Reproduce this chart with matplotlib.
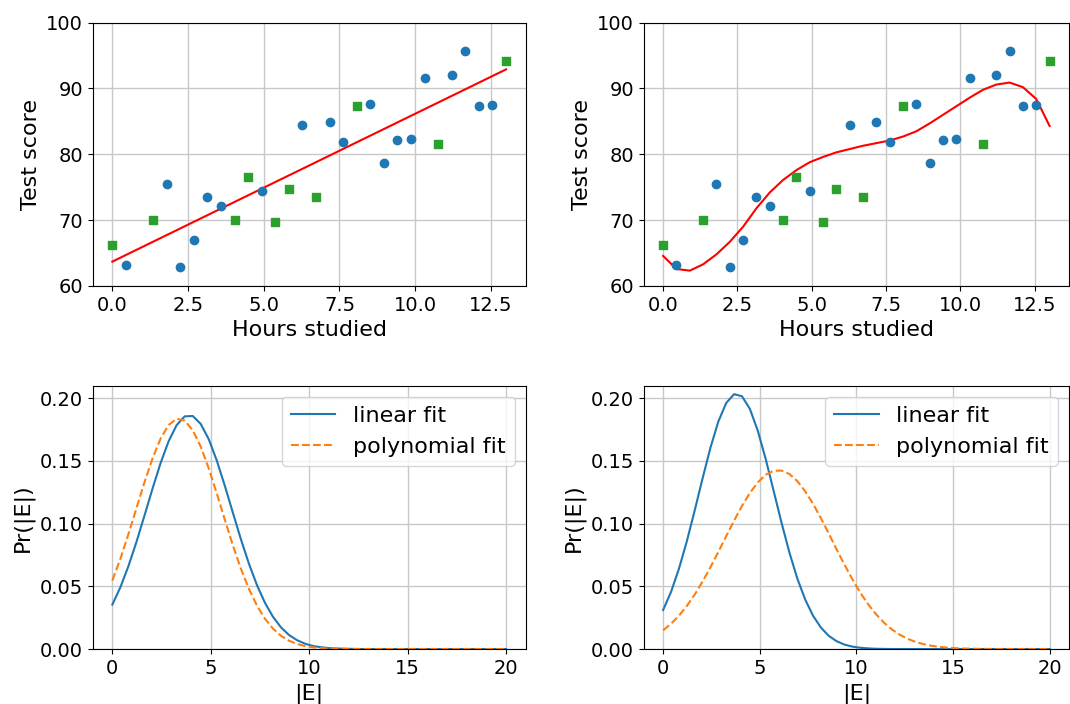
import matplotlib
matplotlib.use("Agg")
import matplotlib.pyplot as plt

# hours studied / test scores (training = circles, test = squares)
train_hours = [0.448, 1.793, 2.241, 2.690, 3.138, 3.586, 4.931, 6.276, 7.172, 7.621,
               8.517, 8.966, 9.414, 9.862, 10.310, 11.207, 11.655, 12.103, 12.552]
train_score = [63.19, 75.44, 62.84, 67.04, 73.52, 72.20, 74.48, 84.40, 84.96, 81.92,
               87.65, 78.68, 82.13, 82.33, 91.65, 92.05, 95.70, 87.29, 87.44]
test_hours = [0.0, 1.345, 4.034, 4.483, 5.379, 5.828, 6.724, 8.069, 10.759, 13.0]
test_score = [66.28, 70.08, 70.08, 76.60, 69.70, 74.68, 73.52, 87.29, 81.57, 94.13]

# linear fit line
lin_hours = [0.0, 13.0]
lin_score = [63.7, 92.9]

# polynomial fit curve
poly_hours = [0.0, 0.448, 0.897, 1.345, 1.793, 2.241, 2.690, 3.138, 3.586, 4.034,
              4.483, 4.931, 5.379, 5.828, 6.276, 6.724, 7.172, 7.621, 8.069, 8.517,
              8.966, 9.414, 9.862, 10.310, 10.759, 11.207, 11.655, 12.103, 12.552, 13.0]
poly_score = [64.56, 62.58, 62.33, 63.29, 64.80, 66.70, 69.00, 71.80, 74.20, 76.10,
              77.60, 78.80, 79.60, 80.30, 80.80, 81.30, 81.70, 82.10, 82.70, 83.50,
              84.70, 86.00, 87.30, 88.60, 89.80, 90.60, 90.90, 90.20, 88.40, 84.30]

# error distributions
err = [0.0, 0.408, 0.816, 1.224, 1.633, 2.041, 2.449, 2.857, 3.265, 3.673,
       4.082, 4.490, 4.898, 5.306, 5.714, 6.122, 6.531, 6.939, 7.347, 7.755,
       8.163, 8.571, 8.980, 9.388, 9.796, 10.204, 10.612, 11.020, 11.429, 11.837,
       12.245, 12.653, 13.061, 13.469, 13.878, 14.286, 14.694, 15.102, 15.510, 15.918,
       16.327, 16.735, 17.143, 17.551, 17.959, 18.367, 18.776, 19.184, 19.592, 20.0]

left_lin = [0.0354, 0.0492, 0.0660, 0.0853, 0.1064, 0.1278, 0.1481, 0.1655, 0.1784, 0.1854,
            0.1857, 0.1794, 0.1672, 0.1502, 0.1301, 0.1087, 0.0875, 0.0680, 0.0509, 0.0368,
            0.0256, 0.0172, 0.0111, 0.0070, 0.0042, 0.0024, 0.0014, 0.0007, 0.0004, 0.0002,
            0.0001] + [0.0] * 19
left_poly = [0.0546, 0.0719, 0.0915, 0.1122, 0.1329, 0.1519, 0.1676, 0.1785, 0.1835, 0.1821,
             0.1744, 0.1613, 0.1439, 0.1240, 0.1031, 0.0827, 0.0640, 0.0479, 0.0346, 0.0241,
             0.0162, 0.0105, 0.0066, 0.0040, 0.0023, 0.0013, 0.0007, 0.0004, 0.0002, 0.0001] + [0.0] * 20
right_lin = [0.0311, 0.0455, 0.0639, 0.0858, 0.1104, 0.1360, 0.1605, 0.1813, 0.1961, 0.2031,
             0.2014, 0.1913, 0.1740, 0.1515, 0.1263, 0.1009, 0.0771, 0.0564, 0.0396, 0.0266,
             0.0171, 0.0105, 0.0062, 0.0035, 0.0019, 0.0010, 0.0005, 0.0002, 0.0001] + [0.0] * 21
right_poly = [0.0149, 0.0201, 0.0265, 0.0343, 0.0434, 0.0538, 0.0652, 0.0774, 0.0900, 0.1024,
              0.1141, 0.1244, 0.1328, 0.1388, 0.1420, 0.1422, 0.1395, 0.1339, 0.1258, 0.1158,
              0.1043, 0.0920, 0.0793, 0.0671, 0.0555, 0.0449, 0.0356, 0.0277, 0.0210, 0.0156,
              0.0114, 0.0081, 0.0057, 0.0039, 0.0026, 0.0017, 0.0011, 0.0007, 0.0004, 0.0003,
              0.0001, 0.0001] + [0.0] * 8

fig = plt.figure(figsize=(10.7, 7.04), dpi=100)
ax_tl = fig.add_axes([0.0866, 0.5938, 0.4047, 0.374])
ax_tr = fig.add_axes([0.6017, 0.5938, 0.3973, 0.374])
ax_bl = fig.add_axes([0.0866, 0.0781, 0.4047, 0.3743])
ax_br = fig.add_axes([0.6017, 0.0781, 0.3973, 0.3743])

GRID = dict(color="#c8c8c8", linewidth=1.0)


def score_panel(ax, fit_x, fit_y):
    ax.grid(True, **GRID)
    ax.set_axisbelow(True)
    ax.scatter(train_hours, train_score, color="C0", zorder=3)
    ax.scatter(test_hours, test_score, color="C2", marker="s", zorder=3)
    ax.plot(fit_x, fit_y, color="red", zorder=2)
    ax.set_ylim(60, 100)
    ax.set_xlabel("Hours studied", fontsize=16)
    ax.set_ylabel("Test score", fontsize=16)
    ax.tick_params(labelsize=14)


def error_panel(ax, lin, poly):
    ax.grid(True, **GRID)
    ax.plot(err, lin, color="C0", label="linear fit")
    ax.plot(err, poly, color="C1", linestyle="--", label="polynomial fit")
    ax.set_ylim(0, 0.21)
    ax.set_xticks([0, 5, 10, 15, 20])
    ax.set_yticks([0.0, 0.05, 0.10, 0.15, 0.20])
    ax.set_xlabel("|E|", fontsize=16)
    ax.set_ylabel("Pr(|E|)", fontsize=16)
    ax.tick_params(labelsize=14)
    ax.legend(loc="upper right", fontsize=16)


score_panel(ax_tl, lin_hours, lin_score)
score_panel(ax_tr, poly_hours, poly_score)
error_panel(ax_bl, left_lin, left_poly)
error_panel(ax_br, right_lin, right_poly)

fig.savefig("out.png", dpi=100)
